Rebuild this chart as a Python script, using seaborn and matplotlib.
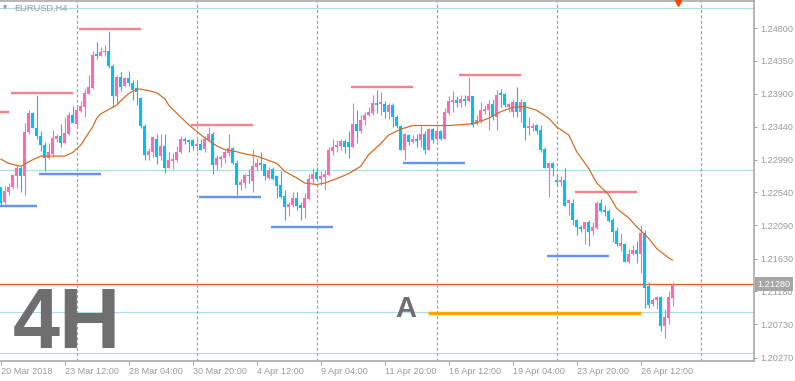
import numpy as np
import pandas as pd
import matplotlib
matplotlib.use("Agg")
import matplotlib.pyplot as plt
import matplotlib.transforms as mtransforms
import seaborn as sns

# =========================================
# EURUSD H4 candles
# =========================================
opens = [
    1.2261, 1.2241, 1.2255, 1.2261, 1.2277, 1.2288, 1.2277, 1.2337, 1.2363, 1.2343,
    1.2332, 1.2319, 1.2301, 1.2307, 1.2327, 1.2331, 1.2322, 1.2334, 1.2360, 1.2348,
    1.2366, 1.2371, 1.2390, 1.2397, 1.2444, 1.2442, 1.2447, 1.2448, 1.2428, 1.2386,
    1.2413, 1.2400, 1.2411, 1.2405, 1.2398, 1.2384, 1.2345, 1.2306, 1.2310, 1.2328,
    1.2304, 1.2318, 1.2288, 1.2297, 1.2299, 1.2310, 1.2327, 1.2326, 1.2326, 1.2318,
    1.2321, 1.2314, 1.2326, 1.2335, 1.2292, 1.2300, 1.2302, 1.2308, 1.2315, 1.2295,
    1.2264, 1.2267, 1.2278, 1.2270, 1.2289, 1.2295, 1.2293, 1.2274, 1.2286, 1.2276,
    1.2264, 1.2249, 1.2234, 1.2237, 1.2247, 1.2237, 1.2233, 1.2245, 1.2273, 1.2282,
    1.2273, 1.2275, 1.2278, 1.2311, 1.2316, 1.2318, 1.2325, 1.2324, 1.2316, 1.2348,
    1.2338, 1.2353, 1.2360, 1.2363, 1.2377, 1.2375, 1.2376, 1.2364, 1.2374, 1.2358,
    1.2345, 1.2312, 1.2333, 1.2324, 1.2328, 1.2326, 1.2334, 1.2313, 1.2341, 1.2328,
    1.2339, 1.2328, 1.2363, 1.2378, 1.2381, 1.2377, 1.2382, 1.2380, 1.2386, 1.2348,
    1.2352, 1.2366, 1.2367, 1.2376, 1.2358, 1.2391, 1.2389, 1.2372, 1.2365, 1.2378,
    1.2365, 1.2378, 1.2343, 1.2343, 1.2347, 1.2340, 1.2314, 1.2288, 1.2295, 1.2271,
    1.2269, 1.2271, 1.2239, 1.2240, 1.2216, 1.2207, 1.2204, 1.2213, 1.2201, 1.2205,
    1.2240, 1.2230, 1.2229, 1.2216, 1.2201, 1.2181, 1.2183, 1.2159, 1.2170, 1.2175,
    1.2170, 1.2198, 1.2125, 1.2101, 1.2106, 1.2111, 1.2070, 1.2082, 1.2109,
]
highs = [
    1.2262, 1.2263, 1.2267, 1.2280, 1.2293, 1.2291, 1.2349, 1.2368, 1.2364, 1.2388,
    1.2338, 1.2324, 1.2322, 1.2340, 1.2335, 1.2348, 1.2358, 1.2364, 1.2373, 1.2374,
    1.2380, 1.2397, 1.2415, 1.2449, 1.2461, 1.2454, 1.2457, 1.2476, 1.2430, 1.2415,
    1.2420, 1.2413, 1.2421, 1.2409, 1.2408, 1.2385, 1.2348, 1.2315, 1.2331, 1.2334,
    1.2334, 1.2334, 1.2309, 1.2308, 1.2318, 1.2331, 1.2330, 1.2328, 1.2327, 1.2327,
    1.2327, 1.2331, 1.2344, 1.2337, 1.2306, 1.2306, 1.2312, 1.2334, 1.2317, 1.2299,
    1.2273, 1.2280, 1.2286, 1.2314, 1.2302, 1.2310, 1.2294, 1.2289, 1.2289, 1.2277,
    1.2283, 1.2257, 1.2241, 1.2254, 1.2255, 1.2241, 1.2253, 1.2279, 1.2287, 1.2289,
    1.2283, 1.2285, 1.2317, 1.2328, 1.2326, 1.2327, 1.2327, 1.2338, 1.2377, 1.2367,
    1.2360, 1.2365, 1.2372, 1.2388, 1.2395, 1.2392, 1.2380, 1.2377, 1.2377, 1.2360,
    1.2347, 1.2336, 1.2335, 1.2333, 1.2334, 1.2345, 1.2339, 1.2342, 1.2342, 1.2342,
    1.2340, 1.2370, 1.2386, 1.2393, 1.2387, 1.2388, 1.2388, 1.2413, 1.2387, 1.2360,
    1.2379, 1.2374, 1.2381, 1.2382, 1.2395, 1.2396, 1.2391, 1.2377, 1.2383, 1.2399,
    1.2383, 1.2379, 1.2358, 1.2349, 1.2348, 1.2347, 1.2316, 1.2296, 1.2296, 1.2278,
    1.2276, 1.2287, 1.2244, 1.2245, 1.2218, 1.2210, 1.2214, 1.2216, 1.2214, 1.2242,
    1.2245, 1.2237, 1.2231, 1.2219, 1.2207, 1.2198, 1.2184, 1.2177, 1.2182, 1.2187,
    1.2209, 1.2202, 1.2131, 1.2109, 1.2112, 1.2112, 1.2094, 1.2118, 1.2131,
]
lows = [
    1.2237, 1.2238, 1.2250, 1.2259, 1.2260, 1.2255, 1.2250, 1.2334, 1.2342, 1.2328,
    1.2311, 1.2284, 1.2300, 1.2303, 1.2324, 1.2317, 1.2321, 1.2333, 1.2349, 1.2342,
    1.2365, 1.2358, 1.2389, 1.2396, 1.2438, 1.2441, 1.2441, 1.2425, 1.2371, 1.2377,
    1.2394, 1.2399, 1.2400, 1.2381, 1.2374, 1.2343, 1.2298, 1.2298, 1.2303, 1.2293,
    1.2298, 1.2281, 1.2287, 1.2286, 1.2296, 1.2308, 1.2321, 1.2309, 1.2313, 1.2311,
    1.2312, 1.2310, 1.2325, 1.2280, 1.2285, 1.2289, 1.2295, 1.2304, 1.2293, 1.2251,
    1.2258, 1.2260, 1.2267, 1.2255, 1.2283, 1.2285, 1.2271, 1.2273, 1.2271, 1.2246,
    1.2246, 1.2216, 1.2222, 1.2234, 1.2230, 1.2216, 1.2219, 1.2244, 1.2267, 1.2271,
    1.2264, 1.2258, 1.2277, 1.2306, 1.2310, 1.2313, 1.2308, 1.2301, 1.2315, 1.2322,
    1.2336, 1.2347, 1.2359, 1.2360, 1.2363, 1.2360, 1.2356, 1.2355, 1.2344, 1.2342,
    1.2312, 1.2298, 1.2319, 1.2322, 1.2317, 1.2316, 1.2307, 1.2312, 1.2322, 1.2325,
    1.2326, 1.2327, 1.2360, 1.2365, 1.2372, 1.2372, 1.2373, 1.2379, 1.2344, 1.2347,
    1.2349, 1.2362, 1.2340, 1.2354, 1.2340, 1.2372, 1.2372, 1.2365, 1.2358, 1.2358,
    1.2351, 1.2326, 1.2333, 1.2338, 1.2334, 1.2310, 1.2287, 1.2248, 1.2277, 1.2264,
    1.2263, 1.2235, 1.2223, 1.2209, 1.2196, 1.2200, 1.2183, 1.2180, 1.2196, 1.2204,
    1.2227, 1.2222, 1.2214, 1.2186, 1.2180, 1.2173, 1.2158, 1.2157, 1.2168, 1.2157,
    1.2143, 1.2095, 1.2095, 1.2098, 1.2094, 1.2063, 1.2054, 1.2073, 1.2098,
]
closes = [
    1.2240, 1.2256, 1.2262, 1.2278, 1.2288, 1.2277, 1.2337, 1.2363, 1.2343, 1.2332,
    1.2319, 1.2301, 1.2310, 1.2329, 1.2331, 1.2322, 1.2336, 1.2360, 1.2350, 1.2368,
    1.2373, 1.2391, 1.2399, 1.2443, 1.2442, 1.2447, 1.2449, 1.2428, 1.2386, 1.2413,
    1.2399, 1.2411, 1.2404, 1.2395, 1.2392, 1.2345, 1.2306, 1.2311, 1.2330, 1.2303,
    1.2318, 1.2288, 1.2299, 1.2300, 1.2310, 1.2327, 1.2325, 1.2323, 1.2318, 1.2321,
    1.2313, 1.2328, 1.2334, 1.2292, 1.2301, 1.2303, 1.2309, 1.2315, 1.2294, 1.2264,
    1.2269, 1.2278, 1.2276, 1.2290, 1.2295, 1.2292, 1.2276, 1.2285, 1.2273, 1.2263,
    1.2248, 1.2234, 1.2238, 1.2247, 1.2235, 1.2233, 1.2246, 1.2273, 1.2279, 1.2273,
    1.2277, 1.2279, 1.2312, 1.2316, 1.2319, 1.2325, 1.2317, 1.2316, 1.2348, 1.2338,
    1.2354, 1.2360, 1.2364, 1.2377, 1.2374, 1.2378, 1.2365, 1.2374, 1.2358, 1.2345,
    1.2313, 1.2334, 1.2324, 1.2328, 1.2325, 1.2334, 1.2313, 1.2341, 1.2326, 1.2339,
    1.2328, 1.2364, 1.2380, 1.2381, 1.2377, 1.2382, 1.2380, 1.2386, 1.2347, 1.2354,
    1.2368, 1.2369, 1.2376, 1.2358, 1.2388, 1.2388, 1.2374, 1.2375, 1.2378, 1.2365,
    1.2378, 1.2343, 1.2345, 1.2346, 1.2339, 1.2312, 1.2288, 1.2295, 1.2287, 1.2269,
    1.2271, 1.2236, 1.2243, 1.2216, 1.2206, 1.2204, 1.2213, 1.2200, 1.2206, 1.2240,
    1.2229, 1.2227, 1.2215, 1.2200, 1.2183, 1.2184, 1.2159, 1.2170, 1.2175, 1.2170,
    1.2198, 1.2123, 1.2100, 1.2106, 1.2111, 1.2070, 1.2083, 1.2111, 1.2128,
]

# Moving average, sampled along the drawn curve
ma_bars = [0, 2, 5, 8, 10, 12, 16, 18, 20, 22, 23, 24, 25, 27, 29, 30, 32, 34, 35, 37,
           39, 41, 42, 44, 47, 49, 51, 54, 56, 59, 61, 64, 66, 69, 71, 74, 76, 79, 81, 84,
           87, 90, 92, 95, 97, 100, 103, 109, 112, 117, 119, 122, 125, 128, 131, 134, 137, 139, 142, 144,
           147, 149, 152, 154, 157, 159, 162, 164, 167, 168]
ma_values = [1.2300, 1.2294, 1.2290, 1.2299, 1.2304, 1.2304, 1.2304, 1.2309, 1.2319, 1.2336,
             1.2344, 1.2356, 1.2362, 1.2368, 1.2374, 1.2380, 1.2390, 1.2396, 1.2396, 1.2394,
             1.2391, 1.2383, 1.2374, 1.2363, 1.2347, 1.2338, 1.2329, 1.2318, 1.2313, 1.2310,
             1.2307, 1.2304, 1.2300, 1.2294, 1.2283, 1.2274, 1.2267, 1.2265, 1.2267, 1.2273,
             1.2280, 1.2290, 1.2306, 1.2321, 1.2333, 1.2341, 1.2346, 1.2346, 1.2346, 1.2348,
             1.2350, 1.2356, 1.2365, 1.2371, 1.2372, 1.2367, 1.2356, 1.2344, 1.2333, 1.2310,
             1.2287, 1.2267, 1.2251, 1.2232, 1.2219, 1.2207, 1.2191, 1.2177, 1.2164, 1.2161]

# Resistance / support levels (price, first bar, last bar)
res_levels = [1.2364, 1.2391, 1.2479, 1.2347, 1.2399, 1.2416, 1.2254]
res_start = [-13.5, 2.5, 19.5, 47.5, 87.5, 114.5, 143.5]
res_end = [2.0, 18.0, 35.0, 63.0, 103.0, 130.0, 159.0]
sup_levels = [1.2235, 1.2280, 1.2248, 1.2207, 1.2294, 1.2167]
sup_start = [-6.5, 9.5, 49.5, 67.5, 100.5, 136.5]
sup_end = [9.0, 25.0, 65.0, 83.0, 116.0, 152.0]

target_level = 1.2088
target_start, target_end = 106.8, 160.0

h_levels = [1.2507, 1.22845, 1.20894, 1.20330]
last_price = 1.21280

date_bars = [0, 16, 32, 48, 64, 80, 96, 112, 128, 144, 160]
date_labels = ["20 Mar 2018", "23 Mar 12:00", "28 Mar 04:00", "30 Mar 20:00", "4 Apr 12:00",
               "9 Apr 04:00", "11 Apr 20:00", "16 Apr 12:00", "19 Apr 04:00", "23 Apr 20:00",
               "26 Apr 12:00"]
price_ticks = [1.24800, 1.24350, 1.23900, 1.23440, 1.22990, 1.22540, 1.22090,
               1.21630, 1.21180, 1.20730, 1.20270]
sep_bars = [19, 49, 79, 109, 139, 175]

df = pd.DataFrame({"open": opens, "high": highs, "low": lows, "close": closes})
df["bar"] = np.arange(len(df))

# =========================================
# Style
# =========================================
sns.set_style("white")
plt.rcParams["font.family"] = ["Liberation Sans", "DejaVu Sans"]
plt.rcParams["lines.scale_dashes"] = False

UP = "#FF69B4"
DOWN = "#00BFFF"
GRAY = "#A0A0A0"
TXT = "#9A9A9A"
PX = 0.72  # one pixel in points

fig = plt.figure(figsize=(7.95, 3.81), dpi=100)
ax = fig.add_axes([0, 20 / 381, 754 / 795, 360 / 381])

# helper lines
for lvl in h_levels:
    ax.axhline(lvl, color="#A8E2E2", lw=1.2 * PX, zorder=1)
for b in sep_bars:
    ax.axvline(b, color=GRAY, lw=1.2 * PX, ls=(0, (2.2, 1.6)), zorder=1)
ax.axhline(last_price, color="#F0501E", lw=1.2 * PX, zorder=1)

# candles
up = df["close"] >= df["open"]
colors = np.where(up, UP, DOWN)
ax.vlines(df["bar"], df["low"], df["high"], colors=colors, lw=1.1 * PX, zorder=3)
body = np.maximum((df["close"] - df["open"]).abs(), 0.00009)
ax.bar(df["bar"], body, bottom=df[["open", "close"]].min(axis=1), width=0.78,
       color=colors, linewidth=0, zorder=4)

# moving average
sns.lineplot(x=ma_bars, y=ma_values, ax=ax, color="#D2691E", lw=1.2 * PX, zorder=5)

# levels
ax.hlines(res_levels, res_start, res_end, colors="#F3838C", lw=2.4 * PX, zorder=2)
ax.hlines(sup_levels, sup_start, sup_end, colors="#6495ED", lw=2.4 * PX, zorder=2)
ax.hlines(target_level, target_start, target_end, colors="#FFA500", lw=3.4 * PX, zorder=2)

# axes
ax.set_xlim(-0.175, 188.325)
ax.set_ylim(1.202246, 1.251710)
ax.yaxis.tick_right()
ax.set_yticks(price_ticks)
ax.set_yticklabels([f"{p:.5f}" for p in price_ticks])
ax.set_xticks(date_bars)
ax.set_xticklabels(date_labels)
for lab in ax.get_xticklabels():
    lab.set_horizontalalignment("left")
ax.tick_params(axis="y", right=True, length=3 * PX, width=PX, color=GRAY, pad=3 * PX,
               labelsize=6.6, labelcolor=TXT)
ax.tick_params(axis="x", bottom=True, length=4 * PX, width=PX, color=GRAY, pad=2 * PX,
               labelsize=6.6, labelcolor=TXT)
for side in ["top", "right", "bottom"]:
    ax.spines[side].set_color(GRAY)
    ax.spines[side].set_linewidth(1.5 * PX)
ax.spines["left"].set_visible(False)
ax.set_xlabel("")
ax.set_ylabel("")

# current price tag
trans = mtransforms.blended_transform_factory(ax.transAxes, ax.transData)
ax.text(1.005, last_price, "1.21280", transform=trans, ha="left", va="center",
        fontsize=6.6, color="white", zorder=10,
        bbox=dict(boxstyle="square,pad=0.25", fc="#A6A6A6", ec="none"))

# marker at top
ax.plot([169.3], [1.25157], marker="v", color="#FF4500", ms=6, clip_on=False, zorder=10)

# labels
fig.text(3 / 795, 1 - 8 / 381, "\u25bc", fontsize=4, color=TXT, va="center",
         family="DejaVu Sans")
fig.text(14 / 795, 1 - 8 / 381, "EURUSD,H4", fontsize=6.7, color=TXT, va="center")
fig.text(13 / 795, (381 - 348) / 381, "4H", fontsize=61, fontweight="bold",
         color="#6E6E6E", va="baseline")
ax.text(395 / 4, 1.2083, "A", fontsize=21, fontweight="bold", color="#6E6E6E",
        va="baseline", ha="left")

fig.savefig("out.png", dpi=100)
